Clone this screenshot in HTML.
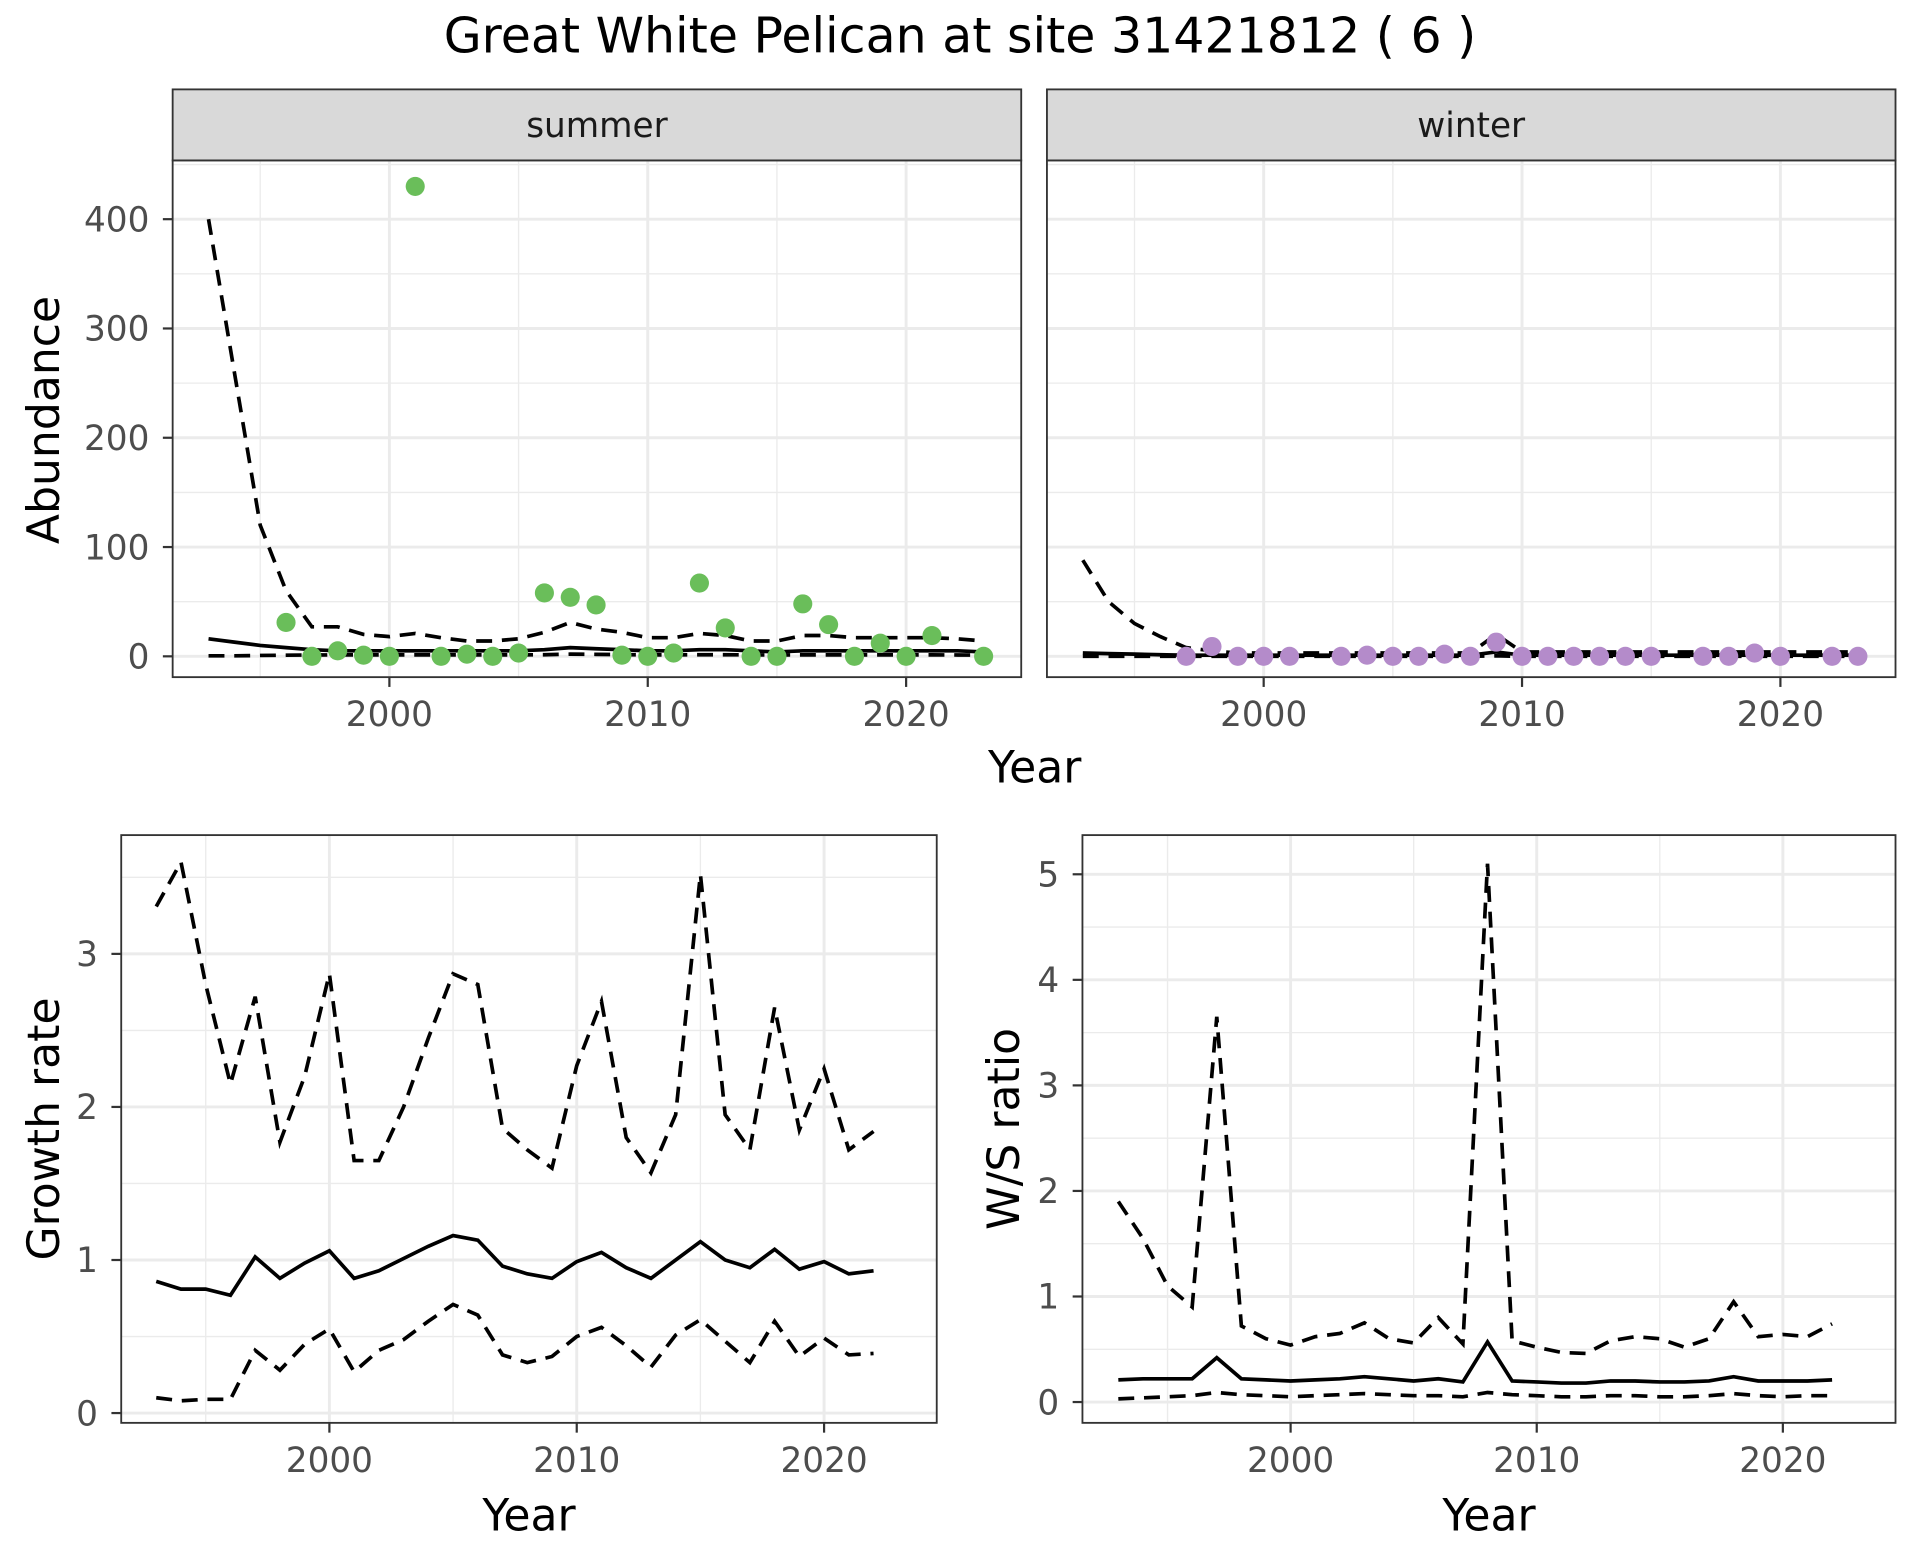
<!DOCTYPE html>
<html><head><meta charset="utf-8"><style>
html,body{margin:0;padding:0;background:#fff;width:1920px;height:1560px;overflow:hidden}
text{font-family:"DejaVu Sans","Liberation Sans",sans-serif}
</style></head><body>
<svg id="chart" width="1920" height="1560" viewBox="0 0 1568 1274" xmlns="http://www.w3.org/2000/svg">
<rect width="1568" height="1274" fill="#fff"/>
<text x="784" y="43" font-size="40" text-anchor="middle" fill="#000">Great White Pelican at site 31421812 ( 6 )</text>
</svg>
<script>
// ---- data ----
const summerPtYears = [1996,1997,1998,1999,2000,2001,2002,2003,2004,2005,2006,2007,2008,2009,2010,2011,2012,2013,2014,2015,2016,2017,2018,2019,2020,2021,2023];
const summerPtVals  = [31,0,5,1,0,430,0,2,0,3,58,54,47,1,0,3,67,26,0,0,48,29,0,12,0,19,0];
const abYears = [1993,1994,1995,1996,1997,1998,1999,2000,2001,2002,2003,2004,2005,2006,2007,2008,2009,2010,2011,2012,2013,2014,2015,2016,2017,2018,2019,2020,2021,2022,2023];
const summerMean  = [16,13,10,8,6,5,5,5,5,5,5,5,5,6,8,7,6,5,5,6,6,5,4,5,5,5,5,5,5,5,4];
const summerUpper = [400,260,120,60,27,27,20,18,21,17,14,14,16,22,31,25,22,17,17,21,19,14,14,19,19,17,17,17,17,16,14];
const summerLower = [0.5,0.5,0.8,1,1.2,1.3,1.3,1.3,1.3,1.3,1.3,1.3,1.3,1.5,2,1.8,1.6,1.4,1.4,1.5,1.5,1.3,1.2,1.4,1.4,1.3,1.3,1.3,1.3,1.2,1.1];
const winterPtYears = [1997,1998,1999,2000,2001,2003,2004,2005,2006,2007,2008,2009,2010,2011,2012,2013,2014,2015,2017,2018,2019,2020,2022,2023];
const winterPtVals  = [0,9,0,0,0,0,1,0,0,2,0,13,0,0,0,0,0,0,0,0,3,0,0,0];
const winterMean  = [3,2.5,2,1.5,1,1,1,1,1,1,1,1,1,1,1,1,4,1,1,1,1,1,1,1,1,1,1,1,1,1,1];
const winterUpper = [88,50,30,18,8,5,3,3,3,3,3,3,3,3,3,3,20,4,4,4,4,4,4,4,4,4,4,4,4,4,4];
const winterLower = [0,0,0,0,0,0,0,0,0,0,0,0,0,0,0,0,0.5,0,0,0,0,0,0,0,0,0,0,0,0,0,0];
const rYears = [1993,1994,1995,1996,1997,1998,1999,2000,2001,2002,2003,2004,2005,2006,2007,2008,2009,2010,2011,2012,2013,2014,2015,2016,2017,2018,2019,2020,2021,2022];
const growthMean  = [0.86,0.81,0.81,0.77,1.02,0.88,0.98,1.06,0.88,0.93,1.01,1.09,1.16,1.13,0.96,0.91,0.88,0.99,1.05,0.95,0.88,1.00,1.12,1.00,0.95,1.07,0.94,0.99,0.91,0.93];
const growthUpper = [3.31,3.60,2.80,2.15,2.72,1.77,2.20,2.87,1.65,1.65,2.00,2.45,2.87,2.80,1.86,1.72,1.60,2.27,2.69,1.80,1.57,1.95,3.52,1.95,1.72,2.65,1.85,2.25,1.72,1.84];
const growthLower = [0.10,0.08,0.09,0.09,0.41,0.28,0.45,0.55,0.27,0.41,0.48,0.60,0.71,0.64,0.38,0.33,0.37,0.50,0.56,0.44,0.30,0.51,0.61,0.47,0.33,0.60,0.37,0.49,0.38,0.39];
const wsMean  = [0.21,0.22,0.22,0.22,0.42,0.22,0.21,0.20,0.21,0.22,0.24,0.22,0.20,0.22,0.19,0.57,0.20,0.19,0.18,0.18,0.20,0.20,0.19,0.19,0.20,0.24,0.20,0.20,0.20,0.21];
const wsUpper = [1.90,1.55,1.10,0.90,3.65,0.72,0.60,0.54,0.62,0.65,0.75,0.60,0.56,0.80,0.55,5.10,0.58,0.52,0.47,0.46,0.58,0.62,0.60,0.52,0.60,0.95,0.62,0.64,0.62,0.74];
const wsLower = [0.03,0.04,0.05,0.06,0.09,0.07,0.06,0.05,0.06,0.07,0.08,0.07,0.06,0.06,0.05,0.09,0.07,0.06,0.05,0.05,0.06,0.06,0.05,0.05,0.06,0.08,0.06,0.05,0.06,0.06];
const xTicks = [2000,2010,2020];
const abTicks = [0,100,200,300,400];
const grTicks = [0,1,2,3];
const wsTicks = [0,1,2,3,4,5];

const svg = document.getElementById('chart');
const NS = 'http://www.w3.org/2000/svg';
function mk(tag, attrs, parent){const e=document.createElementNS(NS,tag);for(const k in attrs)e.setAttribute(k,attrs[k]);(parent||svg).appendChild(e);return e;}

function panel(p){
  const g = mk('g',{});
  
  
  const sx = v => p.x0 + (v - p.xa) * p.xs;
  const sy = v => p.y0 - (v - p.ya) * p.ys;
  mk('rect',{x:p.L,y:p.T,width:p.R-p.L,height:p.B-p.T,fill:'#fff'},g);
  for(let i=-1;i<p.yTicks.length;i++){const m=(i<0?p.yTicks[0]-p.yStep:p.yTicks[i])+p.yStep/2; const y=sy(m); if(y>p.T&&y<p.B) mk('line',{x1:p.L,x2:p.R,y1:y,y2:y,stroke:'#ebebeb','stroke-width':1.1},g);}
  [1995,2005,2015].forEach(m=>{const x=sx(m);mk('line',{x1:x,x2:x,y1:p.T,y2:p.B,stroke:'#ebebeb','stroke-width':1.1},g);});
  p.yTicks.forEach(t=>{const y=sy(t);mk('line',{x1:p.L,x2:p.R,y1:y,y2:y,stroke:'#ebebeb','stroke-width':2.4},g);});
  xTicks.forEach(t=>{const x=sx(t);mk('line',{x1:x,x2:x,y1:p.T,y2:p.B,stroke:'#ebebeb','stroke-width':2.4},g);});
  p.lines.forEach(s=>{
    const d=s.ys.map((v,i)=>(i?'L':'M')+sx(s.xs[i]).toFixed(1)+','+sy(v).toFixed(1)).join(' ');
    const l=mk('path',{d:d,fill:'none',stroke:'#000','stroke-width':3,'stroke-dasharray':s.dash?'13,8':'none'},g);
    
    
  });
  if(p.pts){p.pts.ys.forEach((v,i)=>{
    const c=mk('circle',{cx:sx(p.pts.xs[i]),cy:sy(v),r:7.8,fill:p.pts.color},g);
    
    
  });}
  mk('rect',{x:p.L,y:p.T,width:p.R-p.L,height:p.B-p.T,fill:'none',stroke:'#333','stroke-width':1.5},g);
  if(p.strip){
    mk('rect',{x:p.L,y:p.T-58,width:p.R-p.L,height:58,fill:'#d9d9d9',stroke:'#333','stroke-width':1.5},g);
    const st=mk('text',{x:(p.L+p.R)/2,y:p.T-19,'font-size':28,'text-anchor':'middle',fill:'#1a1a1a'},g);st.textContent=p.strip;
    
    
  }
  if(p.showY){p.yTicks.forEach(t=>{const y=sy(t);
    mk('line',{x1:p.L-8,x2:p.L,y1:y,y2:y,stroke:'#333','stroke-width':1.8},g);
    const tx=mk('text',{x:p.L-19,y:y+10,'font-size':28,'text-anchor':'end',fill:'#4d4d4d'},g);tx.textContent=t;
    
    });}
  xTicks.forEach(t=>{const x=sx(t);
    mk('line',{x1:x,x2:x,y1:p.B,y2:p.B+8,stroke:'#333','stroke-width':1.8},g);
    const tx=mk('text',{x:x,y:p.B+40,'font-size':28,'text-anchor':'middle',fill:'#4d4d4d'},g);tx.textContent=t;
    
    });
  if(p.ylab){const yl=mk('text',{x:0,y:0,'font-size':36,'text-anchor':'middle',fill:'#000',transform:`translate(${p.ylab.x},${p.ylab.y}) rotate(-90)`},g);yl.textContent=p.ylab.t;
    
    }
  if(p.xlab){const xl=mk('text',{x:p.xlab.x,y:p.xlab.y,'font-size':36,'text-anchor':'middle',fill:'#000'},g);xl.textContent='Year';
    
    }
}

panel({name:'summer-panel',L:141,R:834,T:131,B:553,x0:318,xa:2000,xs:21.1,y0:536,ya:0,ys:0.8925,yTicks:abTicks,yStep:100,showY:true,strip:'summer',
  lines:[{name:'summer-upper',xs:abYears,ys:summerUpper,dash:true},{name:'summer-lower',xs:abYears,ys:summerLower,dash:true},{name:'summer-mean',xs:abYears,ys:summerMean}],
  pts:{xs:summerPtYears,ys:summerPtVals,color:'#6abe5a'},ylab:{t:'Abundance',x:48,y:343},xlab:{x:845,y:639}});
panel({name:'winter-panel',L:855,R:1548,T:131,B:553,x0:1032,xa:2000,xs:21.1,y0:536,ya:0,ys:0.8925,yTicks:abTicks,yStep:100,showY:false,strip:'winter',
  lines:[{name:'winter-upper',xs:abYears,ys:winterUpper,dash:true},{name:'winter-lower',xs:abYears,ys:winterLower,dash:true},{name:'winter-mean',xs:abYears,ys:winterMean}],
  pts:{xs:winterPtYears,ys:winterPtVals,color:'#b48bca'}});
panel({name:'growth-panel',L:99,R:765,T:682,B:1162,x0:269,xa:2000,xs:20.2,y0:1154,ya:0,ys:125,yTicks:grTicks,yStep:1,showY:true,
  lines:[{name:'growth-upper',xs:rYears,ys:growthUpper,dash:true},{name:'growth-lower',xs:rYears,ys:growthLower,dash:true},{name:'growth-mean',xs:rYears,ys:growthMean}],
  ylab:{t:'Growth rate',x:48,y:922},xlab:{x:432,y:1250}});
panel({name:'ws-ratio-panel',L:884,R:1548,T:682,B:1162,x0:1054,xa:2000,xs:20.1,y0:1145,ya:0,ys:86.2,yTicks:wsTicks,yStep:1,showY:true,
  lines:[{name:'ws-upper',xs:rYears,ys:wsUpper,dash:true},{name:'ws-lower',xs:rYears,ys:wsLower,dash:true},{name:'ws-mean',xs:rYears,ys:wsMean}],
  ylab:{t:'W/S ratio',x:832,y:922},xlab:{x:1216,y:1250}});
</script>
</body></html>
